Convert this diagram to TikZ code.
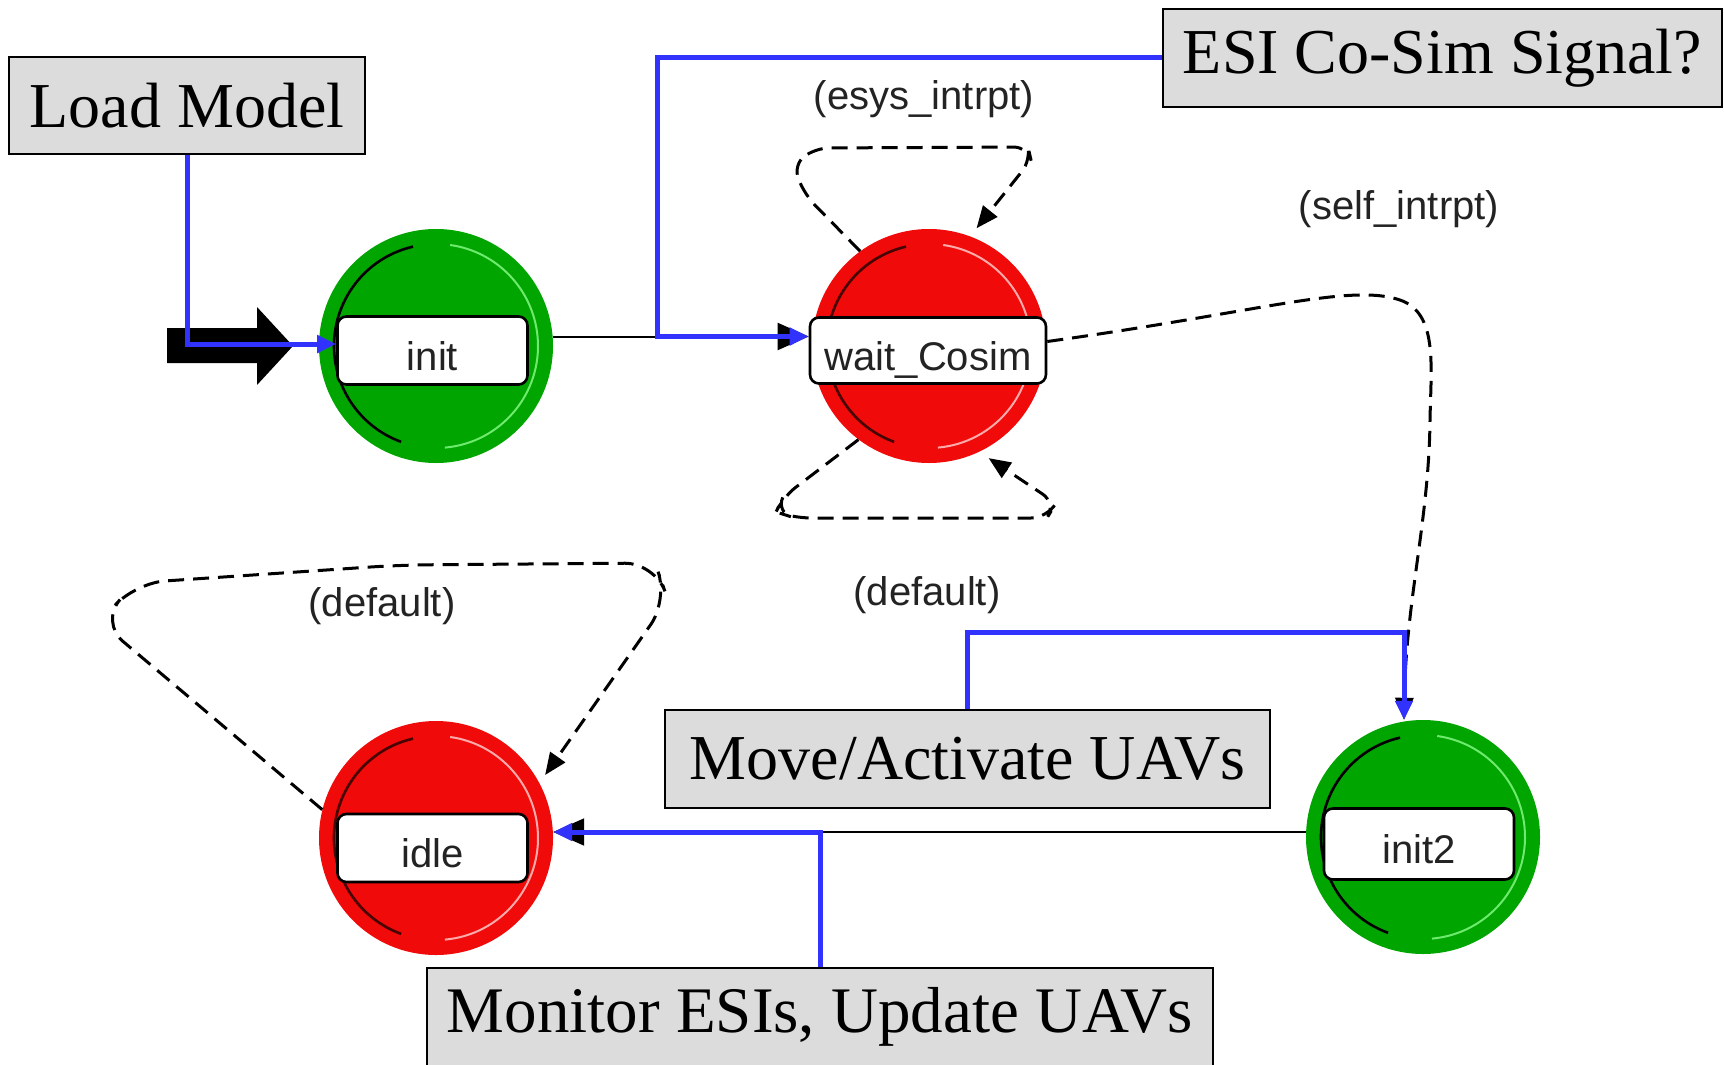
\documentclass[tikz,border=0pt]{standalone}
\usepackage{fontspec}
\setmainfont{Liberation Serif}
\setsansfont{Liberation Sans}
\usetikzlibrary{arrows.meta,calc}

\definecolor{stgreen}{RGB}{0,165,0}
\definecolor{stgreenhi}{RGB}{110,235,110}
\definecolor{stred}{RGB}{240,10,10}
\definecolor{stredhi}{RGB}{255,170,170}
\definecolor{notegray}{RGB}{220,220,220}
\definecolor{linkblue}{RGB}{50,50,255}
\definecolor{labelink}{RGB}{35,35,35}

\tikzset{
  statedisc/.style={circle, minimum size=234pt, inner sep=0pt, fill=#1},
  statename/.style={draw=black, line width=2.6pt, fill=white, rounded corners=9pt,
    minimum width=190pt, minimum height=68pt, inner sep=0pt,
    text height=39pt, text depth=0pt,
    font=\sffamily\fontsize{40}{44}\selectfont, text=labelink},
  note/.style={draw=black, line width=2.6pt, fill=notegray, inner sep=0pt,
    font=\fontsize{64}{70}\selectfont},
  translabel/.style={font=\sffamily\fontsize{40}{44}\selectfont, text=labelink},
  link/.style={draw=linkblue, line width=5pt, -{Triangle[length=19pt,width=17pt]}},
  trans/.style={draw=black, line width=2pt, -{Triangle[length=31pt,width=27pt]}},
  selftrans/.style={draw=black, line width=3pt, dash pattern=on 16pt off 9pt,
    rounded corners=22pt, -{Triangle[length=22pt,width=18pt]}},
}

% shaded inner ring of a state disc: #1 node, #2 shadow colour, #3 highlight colour
\newcommand\statering[3]{%
  \draw[line width=2.6pt, #2] ($(#1.center)+(103:102pt)$) arc[start angle=103, end angle=250, radius=102pt];
  \draw[line width=2pt, #3] ($(#1.center)+(-85:102pt)$) arc[start angle=-85, end angle=82, radius=102pt];
}

\begin{document}
\begin{tikzpicture}[x=1pt,y=1pt]
\useasboundingbox (0,0) rectangle (1724,-1065);
\fill[white] (0,0) rectangle (1724,-1065);

% state discs
\node[statedisc=stgreen] (init)  at (436,-346) {};
\node[statedisc=stred]   (wait)  at (929,-346) {};
\node[statedisc=stred]   (idle)  at (436,-838) {};
\node[statedisc=stgreen] (init2) at (1423,-837) {};
\statering{init}{black}{stgreenhi}
\statering{wait}{black!70!stred}{stredhi}
\statering{idle}{black!70!stred}{stredhi}
\statering{init2}{black}{stgreenhi}

% initial-state marker
\coordinate (entry) at (293,-346);
\fill[black] (entry) -- ++(-36,39) -- ++(0,-21) -- ++(-90,0) -- ++(0,-35)
  -- ++(90,0) -- ++(0,-22) -- cycle;

% name boxes on the discs (placed first so connectors can refer to them)
\node[statename] (initlbl) at (432.5,-350.5) {init};
\node[statename, minimum width=236pt, minimum height=66pt] (waitlbl) at (928,-350.5) {wait\_Cosim};
\node[statename] (idlelbl) at (432.5,-848) {idle};
\node[statename, minimum height=71pt] (init2lbl) at (1419,-844) {init2};

% annotation boxes
\node[note, minimum width=356pt, minimum height=97pt] (load) at (187,-105.5) {Load Model};
\node[note, minimum width=559pt, minimum height=98pt] (esi) at (1442.5,-58) {ESI Co-Sim Signal?};
\node[note, minimum width=605pt, minimum height=98pt] (move) at (967.5,-759) {Move/Activate UAVs};
\node[note, minimum width=786pt, minimum height=98pt, font=\fontsize{65}{72}\selectfont] (mon) at (820,-1017) {Monitor ESIs, Update UAVs};

% helper points
\coordinate (waitin) at ([yshift=14pt]waitlbl.west);
\coordinate (init2tip) at ([xshift=-19pt]init2.north);
\coordinate (idlein) at ([yshift=5pt]init2.west -| idle.east);
\coordinate (esibend) at (657,0);
\coordinate (mvbend) at (1404,-632);

% transitions
\draw[trans] ([yshift=9.5pt]init.east) -- (waitin);
\draw[trans] ([yshift=5pt]init2.west) -- (idlein);
\draw[selftrans, rounded corners=0pt] ([yshift=9pt]waitlbl.east)
  .. controls (1260,-312) and (1350,-283) .. (1400,-300)
  .. controls (1438,-313) and (1431,-365) .. (1430,-420)
  .. controls (1429,-520) and (1406,-600) .. (init2tip);
\draw[selftrans, rounded corners=14pt] (wait.126) -- (805,-195) -- (793,-165) -- (815,-148)
  -- (1028,-147) -- (1031,-160) -- ($(wait.center)+(68:127pt)$);
\draw[selftrans, rounded corners=16pt] (wait.233) -- (783,-497) -- (776,-512) -- (795,-518)
  -- (1047,-518) -- (1056,-503) -- ($(wait.center)+(-62:127pt)$);
\draw[selftrans, rounded corners=30pt] (idle.166) -- (100,-622) -- (135,-583) -- (400,-565)
  -- (655,-563) -- (668,-600) -- ($(idle.center)+(30:126pt)$);

% transition conditions
\node[translabel] (lblesys) at (924,-99) {(esys\_intrpt)};
\node[translabel] (lblself) at (1399,-209) {(self\_intrpt)};
\node[translabel] (lbldefw) at (927,-595) {(default)};
\node[translabel] (lbldefi) at (382,-606) {(default)};

% annotation leaders
\draw[link] (load.south) |- ([yshift=6.5pt]initlbl.west);
\draw[link] (esi.west) -- (esi.west -| esibend) |- (waitin);
\draw[link] (move.north) |- (mvbend) -- (init2tip);
\draw[link] (mon.north) |- (idlein);
\end{tikzpicture}
\end{document}
